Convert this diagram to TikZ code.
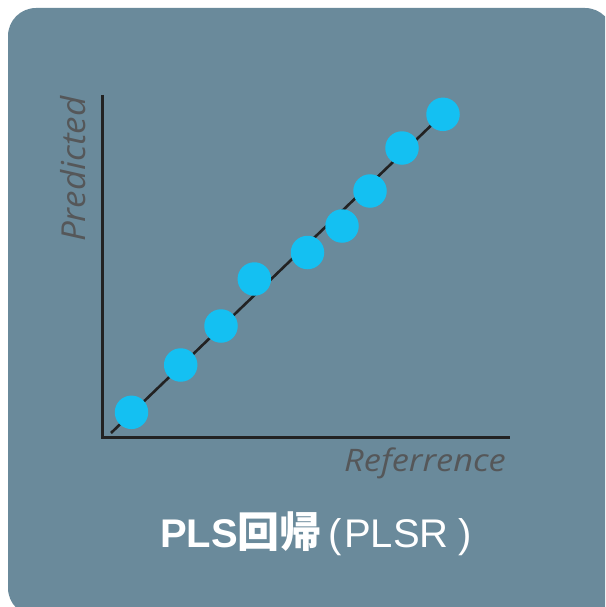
\documentclass[tikz,border=0pt]{standalone}
\usepackage{fontspec}
\setmainfont{Open Sans}
\newfontfamily\cjkfont{Noto Sans CJK JP}
\newfontfamily\labelfont{Open Sans}
\newfontfamily\titlefont{Liberation Sans}
\definecolor{bgcol}{HTML}{6A8A9B}
\definecolor{dotcol}{HTML}{14C0F2}
\definecolor{axcol}{HTML}{222222}
\definecolor{lblcol}{HTML}{555759}
\tikzset{
  dot/.style={circle, fill=dotcol, minimum size=33.5pt, inner sep=0pt},
  axis/.style={draw=axcol, line width=2.8pt},
  fitline/.style={draw=axcol, line width=2.6pt},
  axlabel/.style={text=lblcol, inner sep=0pt},
}
\begin{document}
\begin{tikzpicture}[x=1pt,y=-1pt]
\useasboundingbox (0,0) rectangle (605,607);
\clip (0,0) rectangle (605,607);
\fill[bgcol, rounded corners=28pt] (8,8) rectangle (613,616);
% axes
\coordinate (O) at (102.3,437.3);
\coordinate (ytop) at (102.3,95);
\coordinate (xend) at (510,437.3);
\draw[axis] (ytop) -- (O) -- (xend);
% fit line
\coordinate (fs) at (111,433);
\coordinate (fe) at (443,114);
\draw[fitline] (fs) -- (fe);
% dots
\node[dot] (d1) at (131.5,412.3) {};
\node[dot] (d2) at (180.7,365) {};
\node[dot] (d3) at (221,326) {};
\node[dot] (d4) at (254.3,279) {};
\node[dot] (d5) at (307.5,252.5) {};
\node[dot] (d6) at (342,226) {};
\node[dot] (d7) at (370,191) {};
\node[dot] (d8) at (402,148) {};
\node[dot] (d9) at (443,114.3) {};
% labels
\node[axlabel, rotate=90, anchor=base west] (ylab) at (85,242)
  {\scalebox{1.06}[1]{\labelfont\itshape\fontsize{33}{36}\selectfont Predicted}};
\node[axlabel, anchor=base east] (xlab) at (506,471)
  {\scalebox{1.11}[1]{\labelfont\itshape\fontsize{31}{36}\selectfont Referrence}};
\node[text=white, anchor=base west, inner sep=0pt] (title) at (160,547)
  {\titlefont\fontsize{40}{42}\selectfont\textbf{PLS}{\cjkfont\fontsize{42}{42}\selectfont\bfseries 回帰}\kern7pt(\kern2ptPLSR\kern10pt)};
\end{tikzpicture}
\end{document}
